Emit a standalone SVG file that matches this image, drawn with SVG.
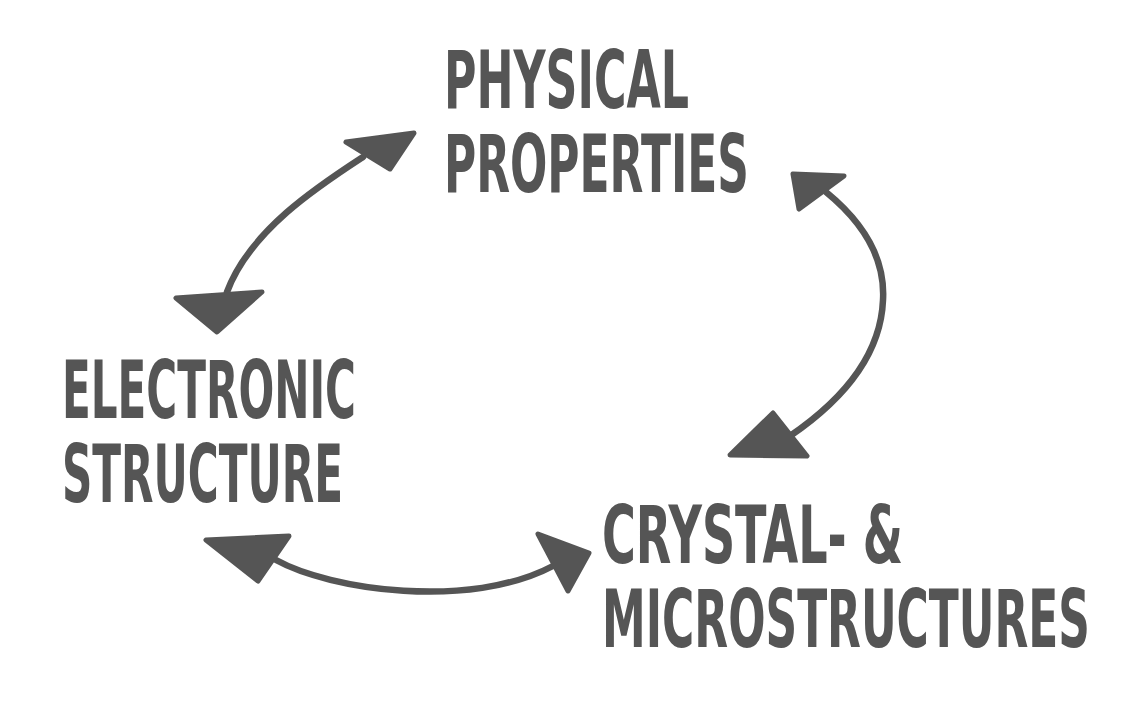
<svg xmlns="http://www.w3.org/2000/svg" width="1140" height="710" viewBox="0 0 1140 710">
  <style>
    .lbl { font-family: "DejaVu Sans Condensed", "DejaVu Sans", "Liberation Sans Narrow", sans-serif; font-stretch: condensed; font-weight: bold; font-size: 80px; fill: #555555; }
    .line { fill: none; stroke: #555555; stroke-width: 6.5; stroke-linecap: round; }
    .head { fill: #555555; stroke: #555555; stroke-width: 5; stroke-linejoin: round; }
  </style>
  <defs>
    <filter id="soft" x="-5%" y="-5%" width="110%" height="110%">
      <feGaussianBlur stdDeviation="0.7"/>
    </filter>
  </defs>
  <rect width="1140" height="710" fill="#ffffff"/>
  <g id="node-physical">
    <text class="lbl" x="444" y="108" textLength="245" lengthAdjust="spacingAndGlyphs">PHYSICAL</text>
    <text class="lbl" x="444" y="192" textLength="305" lengthAdjust="spacingAndGlyphs">PROPERTIES</text>
  </g>
  <g id="node-electronic">
    <text class="lbl" x="62" y="418" textLength="294" lengthAdjust="spacingAndGlyphs">ELECTRONIC</text>
    <text class="lbl" x="62" y="502" textLength="281" lengthAdjust="spacingAndGlyphs">STRUCTURE</text>
  </g>
  <g id="node-crystal">
    <text class="lbl" x="602" y="563" textLength="301" lengthAdjust="spacingAndGlyphs">CRYSTAL- &amp;</text>
    <text class="lbl" x="602" y="647" textLength="488" lengthAdjust="spacingAndGlyphs">MICROSTRUCTURES</text>
  </g>
  <g id="connectors" filter="url(#soft)">
    <g id="conn-electronic-physical">
      <path class="line" d="M363,157 C320,185 250,230 227,292"/>
      <polygon class="head" points="346,142 414,133 390,169"/>
      <polygon class="head" points="176,298 262,292 217,332"/>
    </g>
    <g id="conn-physical-crystal">
      <path class="line" d="M826,192 C870,228 885,265 883,300 C881,350 850,395 790,436"/>
      <polygon class="head" points="793,174 844,176 799,209"/>
      <polygon class="head" points="773,413 807,456 730,455"/>
    </g>
    <g id="conn-electronic-crystal">
      <path class="line" d="M276,560 C330,590 470,610 553,566"/>
      <polygon class="head" points="206,540 289,536 258,581"/>
      <polygon class="head" points="538,534 589,553 568,591"/>
    </g>
  </g>
</svg>
